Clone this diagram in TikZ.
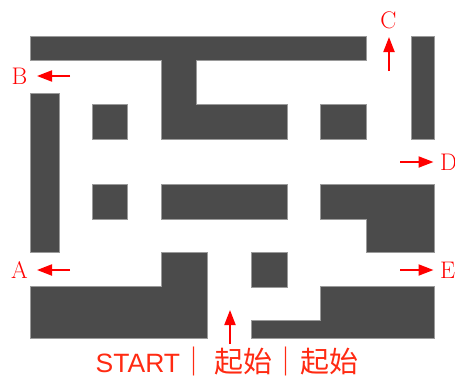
\documentclass[tikz,border=0pt]{standalone}
\usepackage{fontspec}
\newfontfamily\latfont{Liberation Sans}
\newfontfamily\cjkfont{Noto Sans CJK SC}
\usetikzlibrary{arrows.meta}
\definecolor{wallgray}{HTML}{4B4B4B}
\definecolor{edgegray}{HTML}{9A9A9A}
\definecolor{startred}{HTML}{FF2A12}
\tikzset{
  wall/.style={fill=wallgray, draw=edgegray, line width=0.5pt},
  exitlabel/.style={text=red, inner sep=0pt, font=\fontsize{24}{24}\selectfont},
  exitarrow/.style={draw=red, line width=2pt, -{Triangle[length=15pt,width=11pt]}},
}
\begin{document}
\begin{tikzpicture}[x=1pt,y=-1pt]
\useasboundingbox (0,0) rectangle (455,380);
% walls
\path[wall] (30,36) -- (366.7,36) -- (366.7,60) -- (196,60) -- (196,104.3) -- (287,104.3) -- (287,139) -- (161,139) -- (161,60) -- (30,60) -- cycle;
\path[wall] (411,36) rectangle (434,139);
\path[wall] (30,93) rectangle (59.3,252.7);
\path[wall] (92.7,104.3) rectangle (127.7,139);
\path[wall] (320,104.3) rectangle (366.7,139);
\path[wall] (92.7,184) rectangle (127.7,219);
\path[wall] (161,184) rectangle (287,219);
\path[wall] (320,184) -- (434,184) -- (434,252.7) -- (366.7,252.7) -- (366.7,219) -- (320,219) -- cycle;
\path[wall] (30,286.7) -- (161,286.7) -- (161,252) -- (207,252) -- (207,338.3) -- (30,338.3) -- cycle;
\path[wall] (251.7,252) rectangle (287,287.3);
\path[wall] (251.7,320.7) -- (320,320.7) -- (320,286.7) -- (434,286.7) -- (434,338.3) -- (251.7,338.3) -- cycle;
% exits
\node[exitlabel] (B) at (19.5,76) {B};
\node[exitlabel] (A) at (19.5,270) {A};
\node[exitlabel] (C) at (388.5,20) {C};
\node[exitlabel, anchor=west] (D) at (440,162) {D};
\node[exitlabel, anchor=west] (E) at (440,270) {E};
\coordinate (b0) at (70,76); \coordinate (b1) at (37,76);
\coordinate (a0) at (70,270); \coordinate (a1) at (37,270);
\coordinate (c0) at (389,71); \coordinate (c1) at (389,37);
\coordinate (d0) at (400,162); \coordinate (d1) at (433.5,162);
\coordinate (e0) at (400,270); \coordinate (e1) at (433.5,270);
\coordinate (s0) at (230,344); \coordinate (s1) at (230,310);
\draw[exitarrow] (b0) -- (b1);
\draw[exitarrow] (a0) -- (a1);
\draw[exitarrow] (c0) -- (c1);
\draw[exitarrow] (d0) -- (d1);
\draw[exitarrow] (e0) -- (e1);
\draw[exitarrow] (s0) -- (s1);
\node[text=startred, inner sep=0pt, anchor=base west] (start) at (95.5,372.5)
  {{\latfont\fontsize{26.5}{26.5}\selectfont START}\hspace{-1pt}{\cjkfont\fontsize{29}{29}\selectfont ｜\hspace{6pt}起始\hspace{-1pt}｜\hspace{0.5pt}起始}};
\end{tikzpicture}
\end{document}
